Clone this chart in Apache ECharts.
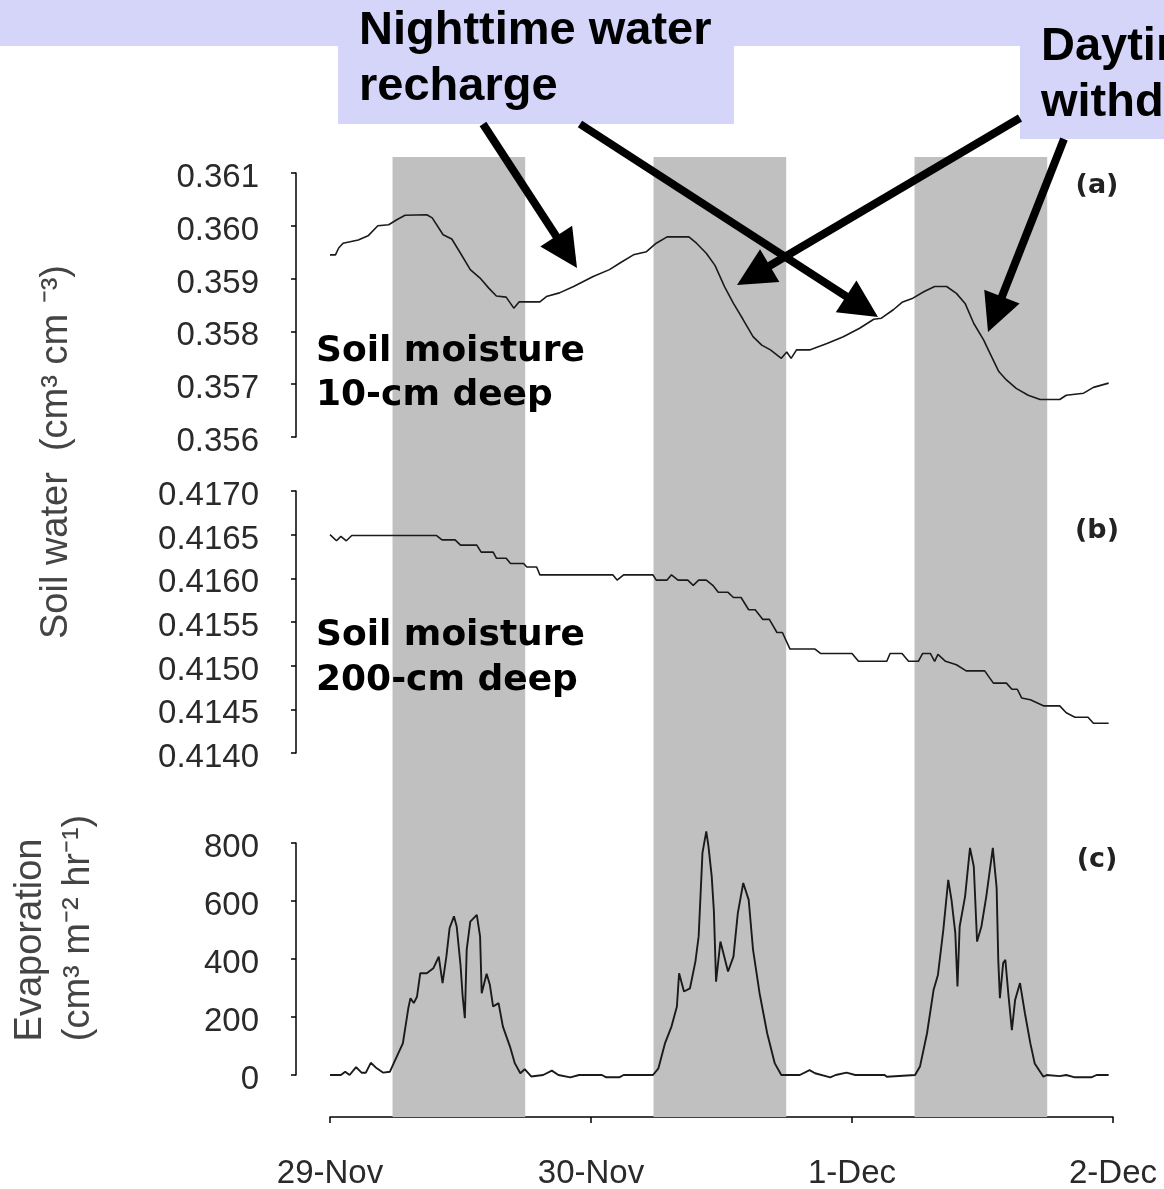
<!DOCTYPE html>
<html><head><meta charset="utf-8">
<script src="https://cdn.jsdelivr.net/npm/echarts@6/dist/echarts.min.js"></script>
<style>html,body{margin:0;padding:0;background:#fff}#c{width:1164px;height:1189px}</style>
</head><body><div id="c"></div>
<script>
// ---- data (x in hours from 29-Nov 00:00) ----
const xTickLabels = ['29-Nov', '30-Nov', '1-Dec', '2-Dec'];
const bandStart = [5.75, 29.75, 53.75];
const bandEnd = [17.95, 41.95, 65.95];
const yLabelsA = ['0.356', '0.357', '0.358', '0.359', '0.360', '0.361'];
const yLabelsB = ['0.4140', '0.4145', '0.4150', '0.4155', '0.4160', '0.4165', '0.4170'];
const yLabelsC = ['0', '200', '400', '600', '800'];

const tA = [0, 0.5, 0.8, 1.2, 2.6, 3.5, 4.4, 5.4, 6.1, 6.9, 8.9, 9.4, 10.4, 11.2, 12.0, 12.9, 13.8, 14.6, 15.3, 16.2, 16.9, 17.4, 19.3, 19.9, 21.1, 22.4, 24.2, 25.7, 26.7, 27.9, 29.1, 30.0, 31.0, 33.0, 33.7, 34.6, 35.4, 36.3, 37.1, 38.0, 38.9, 39.7, 40.5, 41.5, 42.0, 42.4, 42.9, 44.1, 45.7, 47.2, 48.7, 50.0, 50.7, 51.8, 52.6, 53.6, 54.6, 55.6, 56.7, 57.6, 58.4, 59.2, 60.1, 60.7, 61.5, 62.2, 63.1, 64.2, 65.3, 67.1, 67.7, 69.3, 70.2, 71.6];
const soil10 = [0.35945, 0.35945, 0.35958, 0.35967, 0.35973, 0.35981, 0.36000, 0.36002, 0.36011, 0.36020, 0.36021, 0.36015, 0.35983, 0.35975, 0.35948, 0.35917, 0.35901, 0.35882, 0.35867, 0.35865, 0.35844, 0.35856, 0.35856, 0.35866, 0.35873, 0.35885, 0.35904, 0.35917, 0.35930, 0.35945, 0.35951, 0.35967, 0.35979, 0.35979, 0.35967, 0.35948, 0.35925, 0.35884, 0.35853, 0.35822, 0.35790, 0.35774, 0.35765, 0.35749, 0.35761, 0.35749, 0.35765, 0.35765, 0.35777, 0.35790, 0.35806, 0.35823, 0.35825, 0.35841, 0.35855, 0.35863, 0.35875, 0.35885, 0.35885, 0.35872, 0.35853, 0.35815, 0.35784, 0.35758, 0.35724, 0.35708, 0.35692, 0.35679, 0.35671, 0.35671, 0.35679, 0.35683, 0.35694, 0.35702];

const tB = [0, 0.6, 1.0, 1.5, 2.0, 9.8, 10.3, 11.5, 12.0, 13.5, 13.9, 15.0, 15.3, 16.2, 16.6, 17.8, 18.1, 19.0, 19.3, 26.0, 26.4, 27.0, 29.7, 30.0, 31.0, 31.4, 32.0, 32.9, 33.4, 33.9, 34.6, 35.2, 35.7, 36.6, 37.1, 37.8, 38.5, 39.1, 39.8, 40.4, 41.1, 41.6, 42.3, 44.6, 45.1, 48.0, 48.6, 51.2, 51.5, 52.6, 53.2, 54.1, 54.5, 55.2, 55.6, 55.9, 56.6, 57.6, 58.5, 60.2, 61.0, 62.2, 62.7, 63.2, 63.6, 64.4, 65.6, 67.1, 67.7, 68.5, 69.7, 70.2, 71.6];
const soil200 = [0.41650, 0.41643, 0.41648, 0.41643, 0.41649, 0.41649, 0.41644, 0.41644, 0.41638, 0.41638, 0.41630, 0.41630, 0.41623, 0.41623, 0.41617, 0.41617, 0.41613, 0.41613, 0.41604, 0.41604, 0.41598, 0.41604, 0.41604, 0.41598, 0.41598, 0.41604, 0.41598, 0.41598, 0.41592, 0.41598, 0.41598, 0.41592, 0.41584, 0.41584, 0.41578, 0.41578, 0.41564, 0.41564, 0.41553, 0.41553, 0.41538, 0.41538, 0.41519, 0.41519, 0.41514, 0.41514, 0.41505, 0.41505, 0.41514, 0.41514, 0.41505, 0.41505, 0.41514, 0.41514, 0.41505, 0.41513, 0.41505, 0.41501, 0.41494, 0.41494, 0.41480, 0.41480, 0.41473, 0.41473, 0.41463, 0.41461, 0.41454, 0.41454, 0.41446, 0.41441, 0.41441, 0.41434, 0.41434];

const tC = [0, 1.0, 1.4, 1.8, 2.4, 2.9, 3.3, 3.75, 4.3, 4.9, 5.5, 6.0, 6.7, 7.2, 7.4, 7.7, 8.0, 8.3, 8.9, 9.5, 10.0, 10.35, 10.7, 11.0, 11.4, 11.65, 12.0, 12.2, 12.4, 12.57, 12.9, 13.5, 13.8, 13.95, 14.4, 14.7, 15.0, 15.5, 15.9, 16.55, 17.0, 17.5, 17.9, 18.5, 19.6, 20.4, 21.0, 22.1, 22.9, 25.0, 25.4, 26.6, 27.0, 29.7, 30.2, 30.8, 31.4, 31.9, 32.1, 32.55, 33.1, 33.6, 33.9, 34.25, 34.6, 34.8, 35.1, 35.3, 35.5, 35.9, 36.6, 37.1, 37.5, 38.0, 38.5, 38.9, 39.5, 40.2, 40.9, 41.5, 43.2, 44.1, 44.6, 46.0, 46.5, 47.5, 48.3, 51.0, 51.2, 53.8, 54.25, 54.9, 55.5, 55.9, 56.4, 56.85, 57.15, 57.5, 57.7, 57.9, 58.4, 58.85, 59.2, 59.5, 59.9, 60.35, 60.95, 61.3, 61.45, 61.6, 61.9, 62.1, 62.4, 62.7, 63.0, 63.45, 63.9, 64.4, 64.8, 65.6, 65.9, 67.1, 67.7, 68.5, 70.0, 70.5, 71.6];
const evaporation = [0, 0, 11, 0, 27, 8, 8, 42, 23, 8, 11, 52, 109, 230, 265, 248, 270, 351, 351, 368, 408, 317, 408, 507, 547, 512, 380, 270, 196, 432, 529, 552, 478, 282, 349, 311, 236, 248, 167, 98, 40, 6, 20, -5, 0, 15, 0, -8, 0, 0, -8, -8, 0, 0, 23, 109, 167, 236, 351, 288, 299, 391, 478, 766, 840, 789, 685, 565, 322, 460, 357, 408, 558, 662, 604, 432, 282, 144, 40, 0, 0, 17, 6, -8, 0, 8, 0, 0, -6, 0, 29, 144, 293, 345, 501, 673, 604, 489, 305, 512, 616, 783, 719, 460, 512, 616, 783, 645, 397, 265, 386, 397, 270, 155, 259, 317, 213, 109, 40, -6, 0, -4, 0, -8, -8, 0, 0];

// ---- helpers ----
function pairs(t, v) { const n = Math.min(t.length, v.length); const o = []; for (let i = 0; i < n; i++) o.push([t[i], v[i]]); return o; }
function labelFrom(arr) { return function (v) { const s = arr.find(x => Math.abs(parseFloat(x) - v) < 1e-7); return s === undefined ? '' : s; }; }

const FONT = '"Liberation Sans", Arial, sans-serif';
const L = 330, W = 783;
const axisCol = '#000';
function yAx(grid, min, max, interval, labels) {
  return {
    gridIndex: grid, type: 'value', min: min, max: max, interval: interval, offset: 34,
    axisLine: { show: true, onZero: false, lineStyle: { color: axisCol, width: 1.5 } },
    axisTick: { show: true, length: 5, lineStyle: { color: axisCol, width: 1.5 } },
    axisLabel: { formatter: labelFrom(labels), fontFamily: FONT, fontSize: 33, color: '#2a2a2a', margin: 37,
      verticalAlign: 'top', lineHeight: 10 },
    splitLine: { show: false }
  };
}
function hiddenX(grid) { return { gridIndex: grid, type: 'value', min: 0, max: 72, show: false }; }

// ---- graphics ----
const LAV = '#d5d5fa';
const graphics = [
  { type: 'rect', shape: { x: 0, y: 0, width: 1164, height: 46 }, style: { fill: LAV }, z: 40 },
  { type: 'rect', shape: { x: 338, y: 0, width: 396, height: 124 }, style: { fill: LAV }, z: 40 },
  { type: 'rect', shape: { x: 1020, y: 0, width: 144, height: 139 }, style: { fill: LAV }, z: 40 }
];
function txt(s, x, y, font, fill, align, rot) {
  return { type: 'text', x: x, y: y, rotation: rot || 0, z: 60,
    style: { text: s, x: 0, y: 0, font: font, fill: fill || '#000', align: align || 'left', verticalAlign: 'middle' } };
}
const bigBold = 'bold 47px "Liberation Sans", Arial, sans-serif';
graphics.push(txt('Nighttime water', 359, 31, bigBold));
graphics.push(txt('recharge', 359, 87, bigBold));
graphics.push(txt('Daytime', 1041, 47, bigBold));
graphics.push(txt('withdrawal', 1041, 103, bigBold));
const annFont = 'bold 36px "DejaVu Sans", Verdana, sans-serif';
graphics.push(txt('Soil moisture', 316, 352, annFont));
graphics.push(txt('10-cm deep', 316, 396, annFont));
graphics.push(txt('Soil moisture', 316, 636, annFont));
graphics.push(txt('200-cm deep', 316, 681, annFont));
const panFont = 'bold 27px "DejaVu Sans", Verdana, sans-serif';
graphics.push(txt('(a)', 1097, 186, panFont, '#222', 'center'));
graphics.push(txt('(b)', 1097, 531, panFont, '#222', 'center'));
graphics.push(txt('(c)', 1097, 860, panFont, '#222', 'center'));
const titFont = '38px "Liberation Sans", Arial, sans-serif';
graphics.push(txt('Soil water  (cm³ cm ⁻³)', 57, 452, titFont, '#444', 'center', Math.PI / 2));
graphics.push(txt('Evaporation', 31, 940, titFont, '#444', 'center', Math.PI / 2));
graphics.push(txt('(cm³ m⁻² hr⁻¹)', 79, 928, titFont, '#444', 'center', Math.PI / 2));

// arrows: tail -> tip
const arrows = [[483, 124, 577, 268], [580, 124, 878, 317], [1020, 118, 737, 285], [1064, 139, 988, 332]];
arrows.forEach(a => {
  const dx = a[2] - a[0], dy = a[3] - a[1], len = Math.hypot(dx, dy);
  const ux = dx / len, uy = dy / len, HL = 38, HW = 19;
  const bx = a[2] - ux * HL, by = a[3] - uy * HL;
  graphics.push({ type: 'line', z: 70, shape: { x1: a[0], y1: a[1], x2: bx + ux * 2, y2: by + uy * 2 }, style: { stroke: '#000', lineWidth: 8 } });
  graphics.push({ type: 'polygon', z: 70, shape: { points: [[a[2], a[3]], [bx - uy * HW, by + ux * HW], [bx + uy * HW, by - ux * HW]] }, style: { fill: '#000' } });
});

const lineStyle = { color: '#1a1a1a', width: 1.6 };
const option = {
  animation: false,
  backgroundColor: '#fff',
  grid: [
    { left: L, width: W, top: 173, height: 264, outerBoundsMode: 'none' },
    { left: L, width: W, top: 491, height: 262, outerBoundsMode: 'none' },
    { left: L, width: W, top: 843, height: 232, outerBoundsMode: 'none' },
    { left: L, width: W, top: 157, height: 960, outerBoundsMode: 'none' }
  ],
  xAxis: [hiddenX(0), hiddenX(1), hiddenX(2), {
    gridIndex: 3, type: 'value', min: 0, max: 72, interval: 24,
    axisLine: { show: true, onZero: false, lineStyle: { color: axisCol, width: 1.5 } },
    axisTick: { show: true, length: 6, lineStyle: { color: axisCol, width: 1.5 } },
    axisLabel: { formatter: v => xTickLabels[Math.round(v / 24)], fontFamily: FONT, fontSize: 33, color: '#2a2a2a', margin: 40 },
    splitLine: { show: false }
  }],
  yAxis: [
    yAx(0, 0.356, 0.361, 0.001, yLabelsA),
    yAx(1, 0.414, 0.417, 0.0005, yLabelsB),
    yAx(2, 0, 800, 200, yLabelsC),
    { gridIndex: 3, type: 'value', min: 0, max: 1, show: false }
  ],
  series: [
    { type: 'line', xAxisIndex: 3, yAxisIndex: 3, data: [], z: 1, silent: true,
      markArea: { silent: true, itemStyle: { color: '#c0c0c0' },
        data: bandStart.map((s, i) => [{ xAxis: s }, { xAxis: bandEnd[i] }]) } },
    { type: 'line', xAxisIndex: 0, yAxisIndex: 0, data: pairs(tA, soil10), symbol: 'none', lineStyle: lineStyle, z: 5, silent: true },
    { type: 'line', xAxisIndex: 1, yAxisIndex: 1, data: pairs(tB, soil200), symbol: 'none', lineStyle: lineStyle, z: 5, silent: true },
    { type: 'line', xAxisIndex: 2, yAxisIndex: 2, data: pairs(tC, evaporation), symbol: 'none', lineStyle: { color: '#1a1a1a', width: 1.9 }, clip: false, z: 5, silent: true }
  ],
  graphic: { elements: graphics }
};
const chart = echarts.init(document.getElementById('c'), null, { renderer: 'canvas' });
chart.setOption(option);
</script>
</body></html>
